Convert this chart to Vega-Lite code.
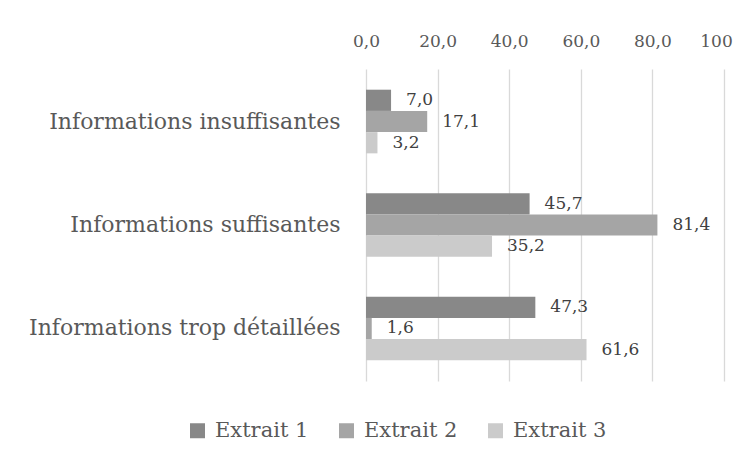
{
  "$schema": "https://vega.github.io/schema/vega-lite/v6.json",
  "autosize": {"type": "none"},
  "width": 358,
  "height": 312,
  "padding": {"left": 366, "top": 69, "right": 10, "bottom": 84},
  "background": "white",
  "config": {
    "locale": {"number": {"decimal": ",", "thousands": " ", "grouping": [3], "currency": ["", " €"]}},
    "font": "DejaVu Serif",
    "view": {"stroke": null}
  },
  "data": {
    "values": [
      {"categorie": "Informations insuffisantes", "serie": "Extrait 1", "valeur": 7.0},
      {"categorie": "Informations insuffisantes", "serie": "Extrait 2", "valeur": 17.1},
      {"categorie": "Informations insuffisantes", "serie": "Extrait 3", "valeur": 3.2},
      {"categorie": "Informations suffisantes", "serie": "Extrait 1", "valeur": 45.7},
      {"categorie": "Informations suffisantes", "serie": "Extrait 2", "valeur": 81.4},
      {"categorie": "Informations suffisantes", "serie": "Extrait 3", "valeur": 35.2},
      {"categorie": "Informations trop détaillées", "serie": "Extrait 1", "valeur": 47.3},
      {"categorie": "Informations trop détaillées", "serie": "Extrait 2", "valeur": 1.6},
      {"categorie": "Informations trop détaillées", "serie": "Extrait 3", "valeur": 61.6}
    ]
  },
  "encoding": {
    "y": {
      "field": "categorie",
      "type": "nominal",
      "sort": null,
      "scale": {"paddingInner": 0.385, "paddingOuter": 0.2},
      "axis": {
        "title": null,
        "domain": false,
        "ticks": false,
        "labelFontSize": 22,
        "labelColor": "#595959",
        "labelPadding": 26,
        "labelLimit": 400
      }
    },
    "yOffset": {"field": "serie", "type": "nominal", "sort": ["Extrait 1", "Extrait 2", "Extrait 3"]},
    "x": {
      "field": "valeur",
      "type": "quantitative",
      "scale": {"domain": [0, 100], "nice": false},
      "axis": {
        "orient": "top",
        "title": null,
        "values": [0, 20, 40, 60, 80, 100],
        "format": ".1f",
        "labelExpr": "datum.value == 100 ? '100' : datum.label",
        "labelOffset": {"condition": {"test": "datum.value == 100", "value": -8}, "value": 0},
        "domain": false,
        "ticks": false,
        "labelFontSize": 17,
        "labelColor": "#595959",
        "labelPadding": 19,
        "labelFlush": false,
        "labelOverlap": false,
        "labelBound": false,
        "grid": true,
        "gridColor": "#d9d9d9",
        "gridWidth": 1.3
      }
    }
  },
  "layer": [
    {
      "mark": {"type": "bar"},
      "encoding": {
        "color": {
          "field": "serie",
          "type": "nominal",
          "scale": {"domain": ["Extrait 1", "Extrait 2", "Extrait 3"], "range": ["#888888", "#a5a5a5", "#cbcbcb"]},
          "legend": {
            "title": null,
            "orient": "none",
            "direction": "horizontal",
            "legendX": -179,
            "legendY": 351,
            "symbolType": "square",
            "symbolSize": 225,
            "symbolStrokeWidth": 0,
            "labelFontSize": 21,
            "labelColor": "#595959",
            "labelOffset": 7,
            "columnPadding": 27,
            "labelLimit": 300
          }
        }
      }
    },
    {
      "mark": {"type": "text", "align": "left", "baseline": "middle", "dx": 15, "fontSize": 17, "color": "#404040"},
      "encoding": {
        "text": {"field": "valeur", "type": "quantitative", "format": ".1f"}
      }
    }
  ]
}
